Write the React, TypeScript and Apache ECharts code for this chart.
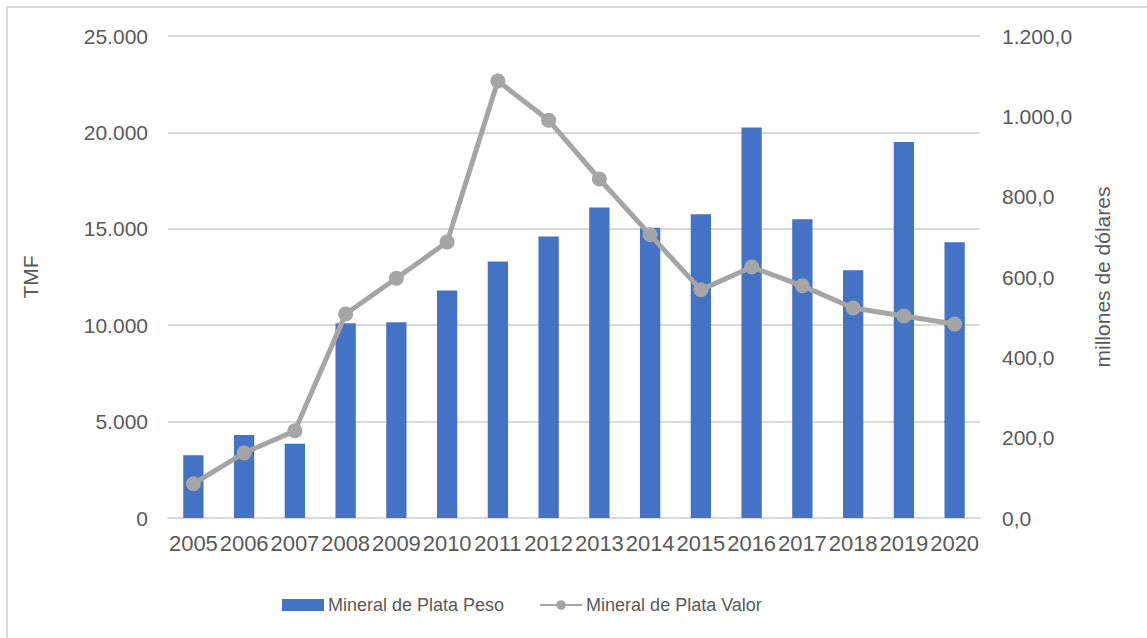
import React, { useEffect, useRef } from "react";
import * as echarts from "echarts";

const years = ["2005","2006","2007","2008","2009","2010","2011","2012","2013","2014","2015","2016","2017","2018","2019","2020"];
const pesoTMF = [3250,4300,3850,10100,10150,11800,13300,14600,16100,15050,15750,20250,15500,12850,19500,14300];
const valorMillones = [85,162,217,508,597,687,1088,990,844,705,568,625,578,523,503,483];
const leftTicks = { min: 0, max: 25000, interval: 5000 };
const rightTicks = { min: 0, max: 1200, interval: 200 };

const FONT = "'Liberation Sans', 'Open Sans', sans-serif";
const fmtLeft = (v: number) => (v === 0 ? "0" : v.toLocaleString("de-DE"));
const fmtRight = (v: number) =>
  v.toLocaleString("de-DE", { minimumFractionDigits: 1, maximumFractionDigits: 1 });

export default function App() {
  const ref = useRef<HTMLDivElement>(null);
  useEffect(() => {
    if (!ref.current) return;
    const chart = echarts.init(ref.current, undefined, { renderer: "svg" });
    chart.setOption({
      animation: false,
      backgroundColor: "#ffffff",
      grid: { left: 168, right: 167, top: 36, bottom: 120, containLabel: false },
      graphic: [
        { type: "line", shape: { x1: 7, y1: 7, x2: 1147, y2: 7 }, style: { stroke: "#d9d9d9", lineWidth: 2 } },
        { type: "line", shape: { x1: 7, y1: 7, x2: 7, y2: 638 }, style: { stroke: "#d9d9d9", lineWidth: 2 } },
      ],
      legend: {
        top: 591,
        left: 277,
        itemGap: 35,
        itemWidth: 42,
        itemHeight: 12,
        textStyle: { fontFamily: FONT, fontSize: 18, color: "#595959", padding: [0, 0, 0, -1] },
        data: [
          { name: "Mineral de Plata Peso", icon: "rect" },
          { name: "Mineral de Plata Valor" },
        ],
      },
      xAxis: {
        type: "category",
        data: years,
        axisLine: { show: true, lineStyle: { color: "#d9d9d9", width: 2 } },
        axisTick: { show: false },
        axisLabel: { interval: 0, fontFamily: FONT, fontSize: 22, color: "#595959", margin: 14 },
      },
      yAxis: [
        {
          type: "value",
          ...leftTicks,
          name: "TMF",
          nameLocation: "middle",
          nameGap: 127,
          nameTextStyle: { fontFamily: FONT, fontSize: 21, color: "#595959" },
          axisLine: { show: false },
          axisTick: { show: false },
          splitLine: { lineStyle: { color: "#d9d9d9", width: 2 } },
          axisLabel: { formatter: fmtLeft, fontFamily: FONT, fontSize: 21, color: "#595959", margin: 20 },
        },
        {
          type: "value",
          ...rightTicks,
          name: "millones de dólares",
          nameLocation: "middle",
          nameGap: 112,
          nameRotate: 90,
          nameTextStyle: { fontFamily: FONT, fontSize: 21, color: "#595959" },
          axisLine: { show: false },
          axisTick: { show: false },
          splitLine: { show: false },
          axisLabel: { formatter: fmtRight, fontFamily: FONT, fontSize: 21, color: "#595959", margin: 22 },
        },
      ],
      series: [
        {
          name: "Mineral de Plata Peso",
          type: "bar",
          yAxisIndex: 0,
          data: pesoTMF,
          barWidth: "40%",
          itemStyle: { color: "#4472c4" },
        },
        {
          name: "Mineral de Plata Valor",
          type: "line",
          yAxisIndex: 1,
          data: valorMillones,
          symbol: "circle",
          symbolSize: 15,
          lineStyle: { color: "#a5a5a5", width: 5 },
          itemStyle: { color: "#a5a5a5" },
        },
      ],
    });
    return () => chart.dispose();
  }, []);
  return (
    <div
      ref={ref}
      style={{ position: "fixed", left: 0, top: 0, width: 1147, height: 638 }}
    />
  );
}
